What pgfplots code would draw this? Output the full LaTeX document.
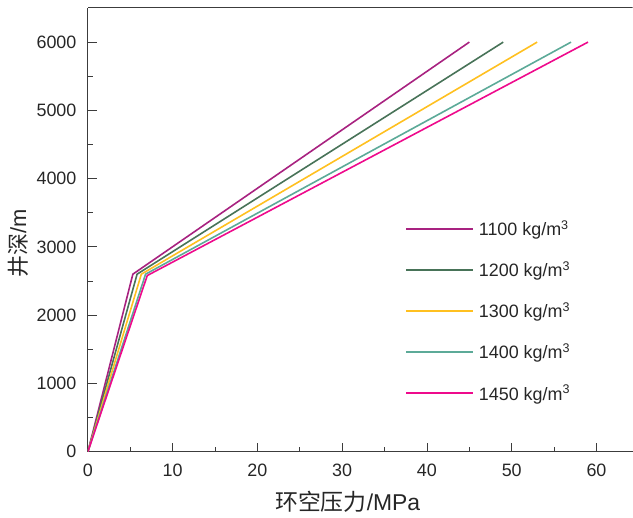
\documentclass[border=0pt]{standalone}
\usepackage{fontspec}
\setmainfont{Liberation Sans}
\newfontfamily\cjk{Noto Sans CJK SC}
\usepackage{pgfplots}
\pgfplotsset{compat=1.18}
\definecolor{c1}{RGB}{168,34,128}
\definecolor{c2}{RGB}{72,115,88}
\definecolor{c3}{RGB}{255,192,32}
\definecolor{c4}{RGB}{92,170,152}
\definecolor{c5}{RGB}{238,10,140}
\definecolor{axc}{RGB}{60,60,60}
\definecolor{txt}{RGB}{38,38,38}
\begin{document}
\begin{tikzpicture}
\begin{axis}[name=ax, scale only axis, width=545bp, height=444bp,
  xmin=0, xmax=64.25, ymin=0, ymax=6500,
  axis x line=bottom, axis y line=left,
  axis line style={-, line width=1bp, color=axc},
  xtick={0,10,...,60}, ytick={0,1000,...,6000},
  minor xtick={5,15,...,55}, minor ytick={500,1500,...,5500},
  tick align=inside, major tick length=9bp, minor tick length=5bp,
  every tick/.style={axc, line width=0.9bp},
  tick label style={font=\fontsize{18}{20}\selectfont, text=txt},
  xticklabel style={yshift=-9bp},
  yticklabel style={xshift=-8bp},
  /pgf/number format/assume math mode=true,
  /pgf/number format/1000 sep={},
  xlabel={{\cjk 环空压力}/MPa}, ylabel={{\cjk 井深}/m},
  label style={text=txt},
  xlabel style={font=\fontsize{23}{25}\selectfont, at={(rel axis cs:0.477,0)}, yshift=-50bp, anchor=center},
  ylabel style={font=\fontsize{22}{24}\selectfont, at={(rel axis cs:0,0.47)}, yshift=70bp, anchor=center},
  legend cell align=left,
  legend image code/.code={\draw[#1, line width=1.8bp] (0bp,0bp) -- (67bp,0bp);},
  legend style={draw=none, fill=none, at={(axis cs:37.4,3420)}, anchor=north west,
    font=\fontsize{18}{20}\selectfont\color{txt}, row sep=20.7bp, inner sep=0pt,
    nodes={inner xsep=5bp}},
]
\addplot[c1, line width=1.6bp] coordinates {(0,0) (5.3,2600) (45,6000)};
\addlegendentry{1100 kg/m\textsuperscript{3}}
\addplot[c2, line width=1.6bp] coordinates {(0,0) (5.8,2600) (49,6000)};
\addlegendentry{1200 kg/m\textsuperscript{3}}
\addplot[c3, line width=1.6bp] coordinates {(0,0) (6.3,2600) (53,6000)};
\addlegendentry{1300 kg/m\textsuperscript{3}}
\addplot[c4, line width=1.6bp] coordinates {(0,0) (6.8,2600) (57,6000)};
\addlegendentry{1400 kg/m\textsuperscript{3}}
\addplot[c5, line width=1.6bp] coordinates {(0,0) (7.0,2580) (59,6000)};
\addlegendentry{1450 kg/m\textsuperscript{3}}
\draw[axc, line width=1bp] (rel axis cs:0,1) -- (rel axis cs:1,1);
\end{axis}
\path ([shift={(-88bp,-66bp)}]ax.south west) rectangle ([shift={(0bp,8bp)}]ax.north east);
\end{tikzpicture}
\end{document}
